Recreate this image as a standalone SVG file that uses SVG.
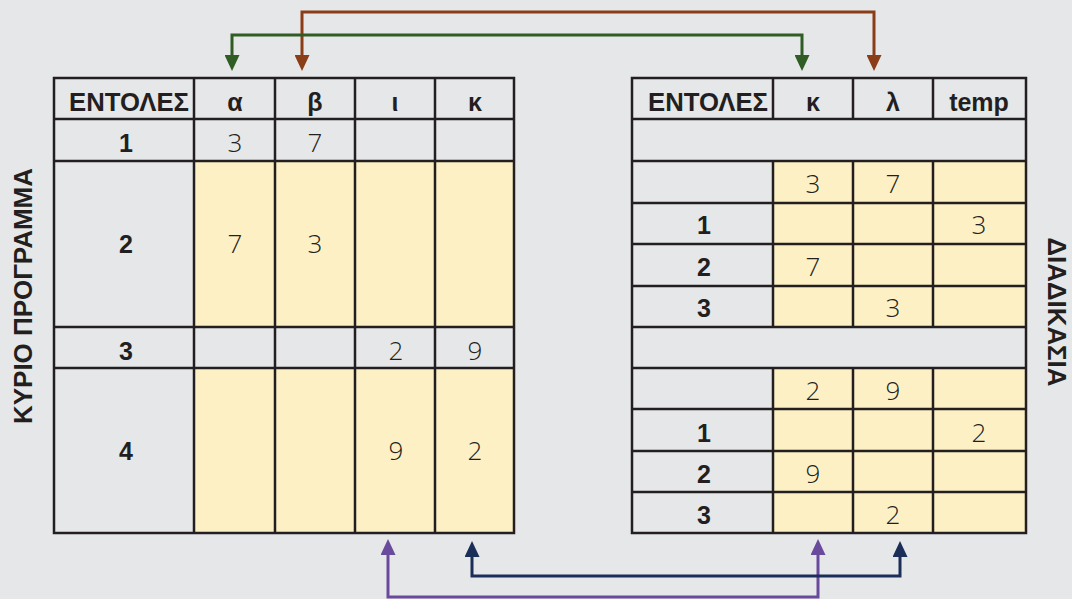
<svg xmlns="http://www.w3.org/2000/svg" width="1072" height="599" viewBox="0 0 1072 599">
<style>
.bg{fill:#e6e7e9}
.yl{fill:#fdf0c5}
.ln{stroke:#231f20;stroke-width:2.5;fill:none;stroke-linecap:square}
.hd{font-family:"Liberation Sans",Arial,sans-serif;font-weight:bold;font-size:25px;fill:#231f20;text-anchor:middle}
.lb{font-family:"Liberation Sans",Arial,sans-serif;font-weight:bold;font-size:25px;fill:#231f20;text-anchor:middle}
.nm{font-family:"Open Sans","Liberation Sans",sans-serif;font-weight:300;font-size:26px;fill:#231f20;text-anchor:middle}
.side{font-family:"Liberation Sans",Arial,sans-serif;font-weight:bold;font-size:26px;fill:#231f20;text-anchor:middle}
.ar{fill:none;stroke-width:3}
</style>
<defs>
<marker id="mBrown" viewBox="0 0 16 15" refX="0" refY="7.5" markerWidth="16" markerHeight="15" markerUnits="userSpaceOnUse" orient="auto-start-reverse"><path d="M0,0 L16,7.5 L0,15 z" fill="#8a3d17"/></marker>
<marker id="mGreen" viewBox="0 0 16 15" refX="0" refY="7.5" markerWidth="16" markerHeight="15" markerUnits="userSpaceOnUse" orient="auto-start-reverse"><path d="M0,0 L16,7.5 L0,15 z" fill="#2f5d24"/></marker>
<marker id="mPurple" viewBox="0 0 16 15" refX="0" refY="7.5" markerWidth="16" markerHeight="15" markerUnits="userSpaceOnUse" orient="auto-start-reverse"><path d="M0,0 L16,7.5 L0,15 z" fill="#6a4a9c"/></marker>
<marker id="mNavy" viewBox="0 0 16 15" refX="0" refY="7.5" markerWidth="16" markerHeight="15" markerUnits="userSpaceOnUse" orient="auto-start-reverse"><path d="M0,0 L16,7.5 L0,15 z" fill="#1b2e5a"/></marker>
</defs>
<rect class="bg" x="0" y="0" width="1072" height="599"/>

<g id="main-table">
<rect class="yl" x="194" y="161" width="320" height="166"/>
<rect class="yl" x="194" y="368" width="320" height="165"/>
<path class="ln" d="M54,78 H514 M54,119 H514 M54,161 H514 M54,327 H514 M54,368 H514 M54,533 H514 M54,78 V533 M194,78 V533 M275,78 V533 M355,78 V533 M435,78 V533 M514,78 V533"/>
<text class="hd" x="129" y="111" textLength="120" lengthAdjust="spacingAndGlyphs">ΕΝΤΟΛΕΣ</text>
<text class="hd" x="235" y="111">α</text>
<text class="hd" x="315" y="111">β</text>
<text class="hd" x="395" y="111">ι</text>
<text class="hd" x="475" y="111">κ</text>
<text class="lb" x="126" y="152">1</text>
<text class="nm" x="235" y="152">3</text>
<text class="nm" x="315" y="152">7</text>
<text class="lb" x="126" y="253">2</text>
<text class="nm" x="235" y="253">7</text>
<text class="nm" x="315" y="253">3</text>
<text class="lb" x="126" y="360">3</text>
<text class="nm" x="396" y="360">2</text>
<text class="nm" x="475" y="360">9</text>
<text class="lb" x="126" y="460">4</text>
<text class="nm" x="396" y="460">9</text>
<text class="nm" x="475" y="460">2</text>
</g>

<g id="procedure-table">
<rect class="yl" x="773" y="161" width="253" height="166"/>
<rect class="yl" x="773" y="368" width="253" height="165"/>
<path class="ln" d="M632,78 H1026 M632,119 H1026 M632,161 H1026 M632,203 H1026 M632,244 H1026 M632,286 H1026 M632,327 H1026 M632,368 H1026 M632,409 H1026 M632,451 H1026 M632,492 H1026 M632,533 H1026 M632,78 V533 M1026,78 V533 M773,78 V119 M853,78 V119 M933,78 V119 M773,161 V327 M853,161 V327 M933,161 V327 M773,368 V533 M853,368 V533 M933,368 V533"/>
<text class="hd" x="708" y="111" textLength="120" lengthAdjust="spacingAndGlyphs">ΕΝΤΟΛΕΣ</text>
<text class="hd" x="813" y="111">κ</text>
<text class="hd" x="893" y="111">λ</text>
<text class="hd" x="979" y="111">temp</text>
<text class="nm" x="813" y="193">3</text>
<text class="nm" x="893" y="193">7</text>
<text class="lb" x="704" y="234">1</text>
<text class="nm" x="979" y="234">3</text>
<text class="lb" x="704" y="276">2</text>
<text class="nm" x="813" y="276">7</text>
<text class="lb" x="704" y="317">3</text>
<text class="nm" x="893" y="317">3</text>
<text class="nm" x="813" y="400">2</text>
<text class="nm" x="893" y="400">9</text>
<text class="lb" x="704" y="442">1</text>
<text class="nm" x="979" y="442">2</text>
<text class="lb" x="704" y="483">2</text>
<text class="nm" x="813" y="483">9</text>
<text class="lb" x="704" y="524">3</text>
<text class="nm" x="893" y="524">2</text>
</g>

<g id="side-labels">
<text class="side" transform="translate(32,296) rotate(-90)" textLength="256" lengthAdjust="spacingAndGlyphs">ΚΥΡΙΟ ΠΡΟΓΡΑΜΜΑ</text>
<text class="side" transform="translate(1048,312) rotate(90)" textLength="149" lengthAdjust="spacingAndGlyphs">ΔΙΑΔΙΚΑΣΙΑ</text>
</g>

<g id="connectors">
<path class="ar" stroke="#8a3d17" d="M302,55 V12 H874 V55" marker-start="url(#mBrown)" marker-end="url(#mBrown)"/>
<path class="ar" stroke="#2f5d24" d="M232,55 V35 H802 V55" marker-start="url(#mGreen)" marker-end="url(#mGreen)"/>
<path class="ar" stroke="#6a4a9c" d="M388,555 V597 H818 V555" marker-start="url(#mPurple)" marker-end="url(#mPurple)"/>
<path class="ar" stroke="#1b2e5a" d="M472,557 V576 H900 V557" marker-start="url(#mNavy)" marker-end="url(#mNavy)"/>
</g>
</svg>
